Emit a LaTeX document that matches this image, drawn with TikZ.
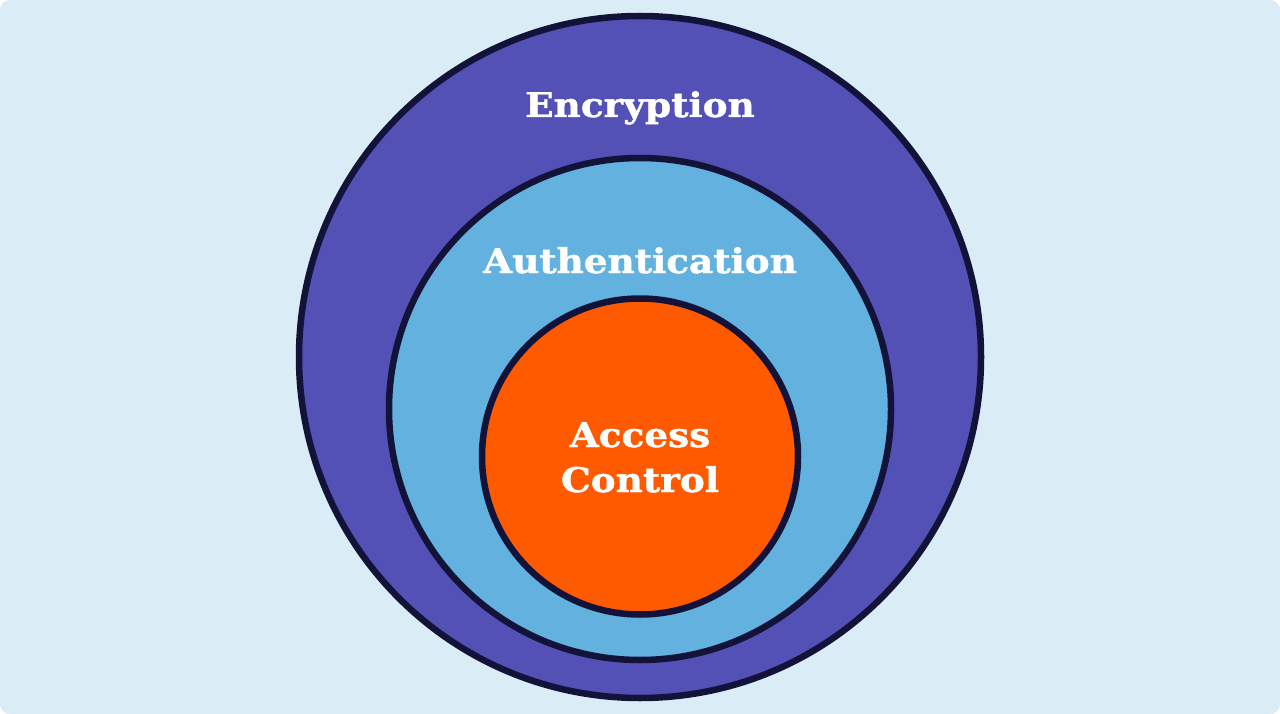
\documentclass[tikz,border=0pt]{standalone}
\usepackage{fontspec}
\setmainfont{DejaVu Serif}
\newfontfamily\lblfont[FakeStretch=1.1, FakeBold=1.2]{DejaVu Serif}
\definecolor{bgc}{HTML}{DAEDF7}
\definecolor{ringline}{HTML}{13133A}
\definecolor{encc}{HTML}{5350B6}
\definecolor{authc}{HTML}{62B1DF}
\definecolor{accc}{HTML}{FF5A00}
\begin{document}
\begin{tikzpicture}[x=1pt,y=-1pt,
  ring/.style={circle, draw=ringline, line width=6.5pt, inner sep=0pt},
  lbl/.style={text=white, font=\lblfont\fontsize{34}{40}\selectfont\bfseries, anchor=base, inner sep=0pt, align=center}]
\useasboundingbox (0,0) rectangle (1280,714);
\fill[white] (0,0) rectangle (1280,714);
\fill[bgc, rounded corners=10pt] (0,0) rectangle (1280,714);
\node[ring, fill=encc, minimum size=682pt] (enc) at (640,357) {};
\node[ring, fill=authc, minimum size=502pt] (auth) at (640,409) {};
\node[ring, fill=accc, minimum size=316pt] (acc) at (640,456.5) {};
\node[lbl] (enct) at (640,117) {Encryption};
\node[lbl] (autht) at (640,273) {Authentication};
\node[lbl] (acct1) at (640,447) {Access};
\node[lbl] (acct2) at (640,492) {Control};
\end{tikzpicture}
\end{document}
